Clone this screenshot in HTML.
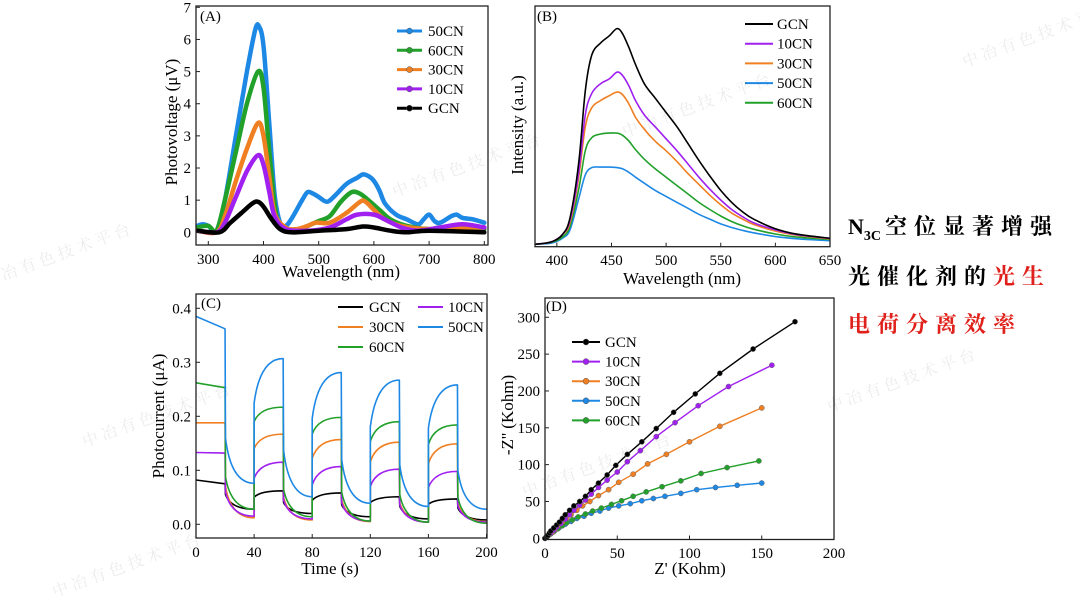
<!DOCTYPE html>
<html><head><meta charset="utf-8">
<style>
html,body{margin:0;padding:0;background:#fff;}
body{width:1080px;height:607px;overflow:hidden;position:relative;font-family:"Liberation Serif","Noto Serif CJK SC",serif;}
svg text{font-family:"Liberation Serif","Noto Serif CJK SC",serif;}
.side{position:absolute;left:848px;font-family:"Liberation Serif","Noto Serif CJK SC",serif;font-size:22px;font-weight:bold;letter-spacing:7px;white-space:nowrap;line-height:30px;}
.sub{font-size:14px;letter-spacing:0;position:relative;top:6px;margin-right:4px;}
.red{color:#e0201a;}
</style></head>
<body>
<svg id="chart" width="1080" height="607" xmlns="http://www.w3.org/2000/svg"></svg>
<div class="side" style="top:212px"><span style="letter-spacing:0">N</span><span class="sub">3C</span>空位显著增强</div>
<div class="side" style="top:262px">光催化剂的<span class="red">光生</span></div>
<div class="side red" style="top:310px">电荷分离效率</div>
<script>
// ---------- Panel A data ----------
const aSeriesNames = ["50CN","60CN","30CN","10CN","GCN"];
const a50 = [[280,0.2],[290,0.25],[300,0.2],[315,0.05],[330,1.0],[350,3.0],[370,5.0],[385,6.3],[392,6.4],[400,5.8],[410,3.5],[420,1.2],[430,0.3],[440,0.2],[450,0.4],[470,1.0],[480,1.25],[490,1.2],[500,1.1],[515,0.95],[530,1.15],[550,1.5],[570,1.7],[580,1.8],[590,1.75],[600,1.6],[610,1.3],[620,0.9],[640,0.55],[660,0.4],[680,0.25],[690,0.4],[700,0.55],[710,0.35],[720,0.3],[740,0.5],[750,0.55],[760,0.45],[780,0.4],[800,0.3]];
const a60 = [[280,0.15],[300,0.2],[315,0.05],[330,1.0],[350,2.5],[370,4.0],[390,5.0],[400,4.5],[410,2.6],[420,0.9],[430,0.2],[460,0.05],[480,0.2],[500,0.35],[520,0.5],[540,0.95],[560,1.25],[575,1.2],[590,1.0],[610,0.7],[630,0.4],[660,0.2],[700,0.1],[720,0.15],[760,0.1],[800,0.1]];
const a30 = [[280,0.05],[315,0.0],[330,0.5],[350,1.6],[370,2.6],[390,3.4],[400,3.0],[410,1.8],[420,0.6],[440,0.15],[460,0.1],[480,0.2],[495,0.3],[520,0.3],[550,0.6],[575,0.95],[585,0.95],[600,0.7],[620,0.4],[650,0.2],[700,0.1],[750,0.15],[800,0.15]];
const a10 = [[280,0.05],[315,0.0],[330,0.3],[350,1.1],[370,1.9],[390,2.4],[400,2.1],[410,1.3],[420,0.5],[440,0.1],[480,0.05],[520,0.15],[550,0.4],[570,0.55],[600,0.55],[620,0.4],[650,0.15],[680,0.05],[720,0.15],[760,0.25],[800,0.15]];
const aG = [[280,0.05],[320,0.0],[340,0.3],[360,0.6],[380,0.9],[390,0.95],[400,0.8],[415,0.4],[430,0.1],[450,0.0],[500,0.05],[550,0.1],[580,0.18],[600,0.15],[630,0.05],[660,0.0],[700,0.05],[800,0.0]];
const aXTicks = [300,400,500,600,700,800];
const aYTicks = [0,1,2,3,4,5,6,7];
// ---------- Panel B data ----------
const bSeriesNames = ["GCN","10CN","30CN","50CN","60CN"];
const bG = [[380,1],[395,2],[405,5],[412,12],[420,35],[426,65],[432,80],[440,85],[448,88],[455,91],[460,89],[466,83],[472,76],[480,68],[490,62],[500,56],[510,50],[520,43],[530,36],[540,29.5],[550,23.5],[560,18.5],[570,14.5],[580,11.5],[600,7.5],[620,5.2],[650,3.5]];
const b10 = [[380,1],[395,2],[405,5],[412,11],[420,31],[426,55],[432,64],[440,68],[448,70],[455,72.8],[460,71.5],[466,67],[472,61],[480,55],[490,50],[500,45],[510,40],[520,34.5],[530,29],[540,24],[550,19.5],[560,15.5],[570,12.5],[580,10],[600,7],[620,5],[650,3.5]];
const b30 = [[380,1],[395,2],[405,5],[412,10],[420,29],[426,50],[432,58],[440,61],[448,63],[455,64.5],[460,63.5],[466,59.5],[472,54],[480,49],[490,44],[500,40],[510,35.5],[520,30.5],[530,26],[540,21.5],[550,17.5],[560,14],[570,11.5],[580,9.3],[600,6.5],[620,4.8],[650,3.3]];
const b50 = [[380,1],[395,1.5],[405,3.5],[412,7],[420,20],[426,30],[432,33],[440,33.2],[448,33.2],[455,33],[460,32.5],[466,31],[472,29],[480,26.5],[490,23.5],[500,21],[510,18.5],[520,16],[530,13.5],[540,11.5],[550,9.5],[560,8],[570,6.8],[580,5.8],[600,4.2],[620,3.3],[650,2.5]];
const b60 = [[380,1],[395,1.8],[405,4],[412,8.5],[420,24],[426,40],[432,45.5],[440,47],[448,47.4],[455,47.4],[460,46.5],[466,44],[472,40.5],[480,36.5],[490,32.5],[500,29],[510,25.5],[520,22],[530,18.5],[540,15.5],[550,12.8],[560,10.5],[570,8.7],[580,7.3],[600,5.3],[620,4],[650,3]];
const bXTicks = [400,450,500,550,600,650];
// ---------- Panel C data (on/off cycles) ----------
const cSeriesNames = ["GCN","10CN","30CN","50CN","60CN"];
const cLightTimes = [0,40,80,120,160];
const cDarkTimes = [20,60,100,140,180];
const cLightStart = {GCN:[0.082,0.05,0.044,0.04,0.037],"10CN":[0.133,0.085,0.073,0.07,0.068],"30CN":[0.188,0.14,0.122,0.115,0.112],"50CN":[0.385,0.224,0.196,0.18,0.178],"60CN":[0.262,0.19,0.167,0.153,0.148]};
const cLightEnd = {GCN:[0.075,0.062,0.058,0.051,0.047],"10CN":[0.132,0.115,0.107,0.102,0.098],"30CN":[0.188,0.167,0.157,0.152,0.149],"50CN":[0.362,0.307,0.281,0.267,0.258],"60CN":[0.253,0.217,0.198,0.19,0.184]};
const cDarkStart = {GCN:[0.055,0.04,0.036,0.033,0.03],"10CN":[0.06,0.045,0.04,0.036,0.034],"30CN":[0.07,0.05,0.045,0.04,0.038],"50CN":[0.16,0.137,0.12,0.11,0.1],"60CN":[0.088,0.065,0.06,0.055,0.05]};
const cDarkEnd = {GCN:[0.028,0.02,0.014,0.01,0.008],"10CN":[0.015,0.01,0.006,0.004,0.004],"30CN":[0.012,0.008,0.005,0.004,0.005],"50CN":[0.076,0.051,0.039,0.033,0.028],"60CN":[0.028,0.014,0.006,0.004,0.002]};
const cXTicks = [0,40,80,120,160,200];
const cYTicks = [0,0.1,0.2,0.3,0.4];
// ---------- Panel D data ----------
const dSeriesNames = ["GCN","10CN","30CN","50CN","60CN"];
const dG = [[0,0],[1,2],[2,4],[3,7],[4,10],[6,14],[8,18],[10,22],[12,27],[14,32],[17,38],[20,44],[24,50],[28,57],[32,66],[37,75],[43,86],[49,99],[57,114],[67,131],[77,149],[89,171],[104,196],[121,224],[144,257],[173,294]];
const d10 = [[0,0],[2,4],[4,7],[6,11],[8,15],[11,20],[14,26],[17,32],[20,38],[24,45],[28,52],[32,60],[37,69],[43,79],[50,90],[57,104],[66,119],[77,138],[90,157],[106,180],[127,206],[157,235]];
const d30 = [[0,0],[3,5],[5,8],[7,12],[9,17],[12,22],[15,27],[18,32],[22,38],[26,44],[31,50],[37,58],[44,66],[51,76],[61,87],[71,101],[84,114],[100,131],[121,152],[150,177]];
const d50 = [[0,0],[2,4],[4,7],[7,11],[10,15],[14,19],[18,23],[22,27],[27,30],[32,34],[38,37],[44,41],[51,44],[59,47],[67,51],[75,54],[83,57],[94,61],[105,66],[118,69],[133,72],[150,75]];
const d60 = [[0,0],[2,3],[4,6],[6,9],[9,13],[12,17],[15,21],[19,25],[23,29],[28,33],[33,37],[39,41],[46,46],[53,51],[61,57],[70,63],[81,70],[94,78],[108,88],[126,96],[148,105]];
const dXTicks = [0,50,100,150,200];
const dYTicks = [0,50,100,150,200,250,300];

const COL = {GCN:"#000000","10CN":"#a020f0","30CN":"#f07f22","50CN":"#1e88e5","60CN":"#21a02a"};
const svg = document.getElementById('chart');
const NS = "http://www.w3.org/2000/svg";
function mk(tag, attrs, parent){const e=document.createElementNS(NS,tag);for(const k in attrs)e.setAttribute(k,attrs[k]);(parent||svg).appendChild(e);return e;}
function txt(s,x,y,size,anchor,parent,extra){const t=mk('text',Object.assign({x:x,y:y,'font-size':size,'text-anchor':anchor||'middle',fill:'#000'},extra||{}),parent);t.textContent=s;return t;}
function lin(d0,d1,r0,r1){return v=>r0+(v-d0)*(r1-r0)/(d1-d0);}

function frame(g,L,T,R,B){
  const f=mk('rect',{x:L,y:T,width:R-L,height:B-T,fill:'none',stroke:'#222','stroke-width':1.3},g);
  
  
}
function xAxis(g,ticks,sx,B,y,fmt){
  ticks.forEach(v=>{const X=sx(v);
    const tk=mk('line',{x1:X,x2:X,y1:B,y2:B-4,stroke:'#222','stroke-width':1},g);
    
    
    const l=txt(fmt?fmt(v):String(v),X,y,15,'middle',g);
    
    
  });
}
function yAxis(g,ticks,sy,L,x,fmt){
  ticks.forEach(v=>{const Y=sy(v);
    const tk=mk('line',{x1:L,x2:L+4,y1:Y,y2:Y,stroke:'#222','stroke-width':1},g);
    
    
    const l=txt(fmt?fmt(v):String(v),x,Y+5,15,'end',g);
    
    
  });
}
function pathOf(pts,sx,sy){return pts.map((p,i)=>(i?'L':'M')+sx(p[0]).toFixed(1)+','+sy(p[1]).toFixed(1)).join(' ');}
function smoothOf(pts,sx,sy){
  const P=pts.map(p=>[sx(p[0]),sy(p[1])]);
  let d='M'+P[0][0].toFixed(1)+','+P[0][1].toFixed(1);
  for(let i=0;i<P.length-1;i++){
    const p0=P[Math.max(0,i-1)],p1=P[i],p2=P[i+1],p3=P[Math.min(P.length-1,i+2)];
    const c1=[p1[0]+(p2[0]-p0[0])/6,p1[1]+(p2[1]-p0[1])/6];
    const c2=[p2[0]-(p3[0]-p1[0])/6,p2[1]-(p3[1]-p1[1])/6];
    d+='C'+c1[0].toFixed(1)+','+c1[1].toFixed(1)+' '+c2[0].toFixed(1)+','+c2[1].toFixed(1)+' '+p2[0].toFixed(1)+','+p2[1].toFixed(1);
  }
  return d;
}
function legendRow(g,name,x1,x2,tx,y,marker,w){
  const l=mk('line',{x1:x1,x2:x2,y1:y,y2:y,stroke:COL[name],'stroke-width':w||2},g);
  
  
  if(marker){const c=mk('circle',{cx:(x1+x2)/2,cy:y,r:3,fill:COL[name],stroke:'#555','stroke-width':0.5},g);
    
    }
  const t=txt(name,tx,y+5,15,'start',g);
  
  
}
function clip(id,L,T,R,B){const d=mk('clipPath',{id:id});mk('rect',{x:L,y:T,width:R-L,height:B-T},d);}

// ---------- Panel A ----------
(function(){
  const L=196,R=488,T=6,B=245;
  const g=mk('g',{});
  
  
  const sx=lin(300,800,208.3,484.3), sy=lin(0,7,232.3,7.3);
  clip('ca',L,T,R,B);
  const data={"50CN":a50,"60CN":a60,"30CN":a30,"10CN":a10,"GCN":aG};
  const pg=mk('g',{'clip-path':'url(#ca)'},g);
  ["50CN","60CN","30CN","10CN","GCN"].forEach(n=>{
    const p=mk('path',{d:smoothOf(data[n],sx,sy),fill:'none',stroke:COL[n],'stroke-width':4.5,'stroke-linejoin':'round','stroke-linecap':'round'},pg);
    
    
  });
  frame(g,L,T,R,B);
  xAxis(g,aXTicks,sx,B,264);
  yAxis(g,aYTicks,sy,L,191);
  const t=txt('(A)',200,21,15,'start',g);  
  const xt=txt('Wavelength (nm)',341,277,17,'middle',g);  
  const yt=txt('Photovoltage (μV)',0,0,17,'middle',g,{transform:'translate(177,122) rotate(-90)'});  
  const lg=mk('g',{},g);  
  aSeriesNames.forEach((n,i)=>legendRow(lg,n,397,422,428,31+i*19.3,true,3));
})();

// ---------- Panel B ----------
(function(){
  const L=535,R=830,T=6,B=246.7;
  const g=mk('g',{});
  
  
  const sx=lin(380,650,535,830), sy=lin(0,100,246.7,7);
  clip('cb',L,T,R,B);
  const data={"GCN":bG,"10CN":b10,"30CN":b30,"50CN":b50,"60CN":b60};
  const pg=mk('g',{'clip-path':'url(#cb)'},g);
  ["50CN","60CN","30CN","10CN","GCN"].forEach(n=>{
    const p=mk('path',{d:smoothOf(data[n],sx,sy),fill:'none',stroke:COL[n],'stroke-width':1.6,'stroke-linejoin':'round'},pg);
    
    
  });
  frame(g,L,T,R,B);
  xAxis(g,bXTicks,sx,B,265);
  const t=txt('(B)',537,21,15,'start',g);  
  const xt=txt('Wavelength (nm)',682,284,17,'middle',g);  
  const yt=txt('Intensity (a.u.)',0,0,17,'middle',g,{transform:'translate(523,125) rotate(-90)'});  
  const lg=mk('g',{},g);  
  bSeriesNames.forEach((n,i)=>legendRow(lg,n,745,773,777,24+i*19.7,false,2));
})();

// ---------- Panel C ----------
(function(){
  const L=196,R=487,T=294,B=538;
  const g=mk('g',{});
  
  
  const sx=lin(0,200,196,486.5), sy=lin(0,0.4,524.3,308.3);
  clip('cc',L,T,R,B);
  const pg=mk('g',{'clip-path':'url(#cc)'},g);
  ["GCN","30CN","10CN","60CN","50CN"].forEach(n=>{
    let d='';
    cLightTimes.forEach((t0,i)=>{
      const t1=cDarkTimes[i];
      const ls=cLightStart[n][i], le=cLightEnd[n][i];
      d+=(i?'L':'M')+sx(t0).toFixed(1)+','+sy(ls).toFixed(1);
      if(i===0) d+='L'+sx(t1)+','+sy(le);
      else d+='Q'+sx(t0+4)+','+sy(le)+' '+sx(t1)+','+sy(le);
      const ds=cDarkStart[n][i], de=cDarkEnd[n][i], t2=t1+20;
      d+='L'+sx(t1+0.3)+','+sy(ds)+'Q'+sx(t1+4)+','+sy(de)+' '+sx(t2)+','+sy(de);
    });
    const p=mk('path',{d:d,fill:'none',stroke:COL[n],'stroke-width':1.6,'stroke-linejoin':'round'},pg);
    
    
  });
  frame(g,L,T,R,B);
  xAxis(g,cXTicks,sx,B,557);
  yAxis(g,cYTicks,sy,L,191,v=>v.toFixed(1));
  const t=txt('(C)',201,308,15,'start',g);  
  const xt=txt('Time (s)',330,574,17,'middle',g);  
  const yt=txt('Photocurrent (μA)',0,0,17,'middle',g,{transform:'translate(164,416) rotate(-90)'});  
  const lg=mk('g',{},g);  
  legendRow(lg,'GCN',338,363,369,307,false,2);
  legendRow(lg,'10CN',418,443,448,307,false,2);
  legendRow(lg,'30CN',338,363,369,327,false,2);
  legendRow(lg,'50CN',418,443,448,327,false,2);
  legendRow(lg,'60CN',338,363,369,347,false,2);
})();

// ---------- Panel D ----------
(function(){
  const L=545,R=834,T=298,B=539.5;
  const g=mk('g',{});
  
  
  const sx=lin(0,200,545,834), sy=lin(0,300,538.3,317.3);
  const data={"GCN":dG,"10CN":d10,"30CN":d30,"50CN":d50,"60CN":d60};
  ["50CN","60CN","30CN","10CN","GCN"].forEach(n=>{
    const sg=mk('g',{},g);
    
    
    mk('path',{d:pathOf(data[n],sx,sy),fill:'none',stroke:COL[n],'stroke-width':1.4},sg);
    data[n].forEach(p=>{
      const c=mk('circle',{cx:sx(p[0]),cy:sy(p[1]),r:2.6,fill:COL[n],stroke:'#666','stroke-width':0.5},sg);
      
      
    });
  });
  frame(g,L,T,R,B);
  xAxis(g,dXTicks,sx,B,558);
  yAxis(g,dYTicks,sy,L,540);
  const t=txt('(D)',546,311,15,'start',g);  
  const xt=txt("Z' (Kohm)",690,574,17,'middle',g);  
  const yt=txt("-Z'' (Kohm)",0,0,17,'middle',g,{transform:'translate(513,415) rotate(-90)'});  
  const lg=mk('g',{},g);  
  dSeriesNames.forEach((n,i)=>legendRow(lg,n,572,600,605,342+i*19.6,true,2));
})();

// faint watermarks
[[470,170],[700,110],[160,420],[905,385],[600,470],[130,570],[1040,40],[60,260]].forEach(p=>{
  const w=txt('中冶有色技术平台',p[0],p[1],16,'middle',svg,{fill:'#000','fill-opacity':0.08,transform:'rotate(-20 '+p[0]+' '+p[1]+')','letter-spacing':'4'});
  
  
});
</script>
</body></html>
